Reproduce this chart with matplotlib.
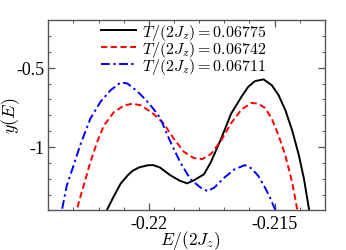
import matplotlib
matplotlib.use("Agg")
import matplotlib.pyplot as plt
from matplotlib.ticker import FixedLocator, MultipleLocator, FuncFormatter

plt.rcParams['mathtext.fontset'] = 'cm'
plt.rcParams['font.family'] = ['Liberation Serif', 'DejaVu Serif']

labels = [r"$T/(2J_z)=0.06775$", r"$T/(2J_z)=0.06742$", r"$T/(2J_z)=0.06711$"]

E_black = [-0.2218, -0.22166, -0.22139, -0.22112, -0.22085, -0.22065, -0.22038, -0.22004,
           -0.21983, -0.21956, -0.21915, -0.21875, -0.21848, -0.21821, -0.21781, -0.21754,
           -0.21713, -0.21673, -0.21632, -0.21605, -0.21578, -0.21544, -0.21511, -0.21484,
           -0.21457, -0.21430, -0.21403, -0.21383, -0.21363, -0.2135]
y_black = [-1.5, -1.394, -1.309, -1.230, -1.180, -1.150, -1.128, -1.115,
           -1.114, -1.129, -1.178, -1.214, -1.229, -1.210, -1.172, -1.097,
           -0.949, -0.790, -0.684, -0.621, -0.585, -0.574, -0.611, -0.674,
           -0.769, -0.896, -1.055, -1.203, -1.394, -1.5]

E_red = [-0.2230, -0.22287, -0.22260, -0.22233, -0.22206, -0.22179, -0.22139, -0.22098,
         -0.22065, -0.22031, -0.21983, -0.21942, -0.21902, -0.21861, -0.21821, -0.21787,
         -0.21753, -0.21713, -0.21673, -0.21632, -0.21592, -0.21565, -0.21538, -0.21511,
         -0.21484, -0.21457, -0.21430, -0.21410, -0.2140]
y_red = [-1.5, -1.394, -1.246, -1.097, -0.970, -0.865, -0.780, -0.738,
         -0.727, -0.738, -0.790, -0.850, -0.945, -1.030, -1.070, -1.076,
         -1.044, -0.960, -0.850, -0.764, -0.722, -0.727, -0.754, -0.822,
         -0.928, -1.055, -1.224, -1.394, -1.5]

E_blue = [-0.2236, -0.22346, -0.22327, -0.22300, -0.22274, -0.22233, -0.22193, -0.22152,
          -0.22112, -0.22085, -0.22044, -0.22011, -0.21982, -0.21956, -0.21915, -0.21875,
          -0.21835, -0.21794, -0.21767, -0.21740, -0.21700, -0.21659, -0.21632, -0.21619,
          -0.21592, -0.21565, -0.21538, -0.21518, -0.21498, -0.2149]
y_blue = [-1.5, -1.40, -1.246, -1.119, -0.992, -0.822, -0.716, -0.642,
          -0.593, -0.600, -0.652, -0.705, -0.760, -0.815, -0.965, -1.097,
          -1.203, -1.256, -1.278, -1.256, -1.193, -1.140, -1.123, -1.114,
          -1.135, -1.182, -1.256, -1.320, -1.394, -1.5]

fig = plt.figure(figsize=(3.46, 2.51), dpi=100)
ax = fig.add_axes([0.1396, 0.1574, 0.7994, 0.7589])

ax.plot(E_black, y_black, color='black', lw=1.4, ls='-', label=labels[0])
ax.plot(E_red, y_red, color='red', lw=1.4, ls=(0, (3.2, 1.8)), label=labels[1])
ax.plot(E_blue, y_blue, color='blue', lw=1.4, ls=(0, (4.5, 1.8, 1.2, 1.8)), label=labels[2])

ax.set_xlim(-0.224, -0.213)
ax.set_ylim(-1.4, -0.2)

ax.xaxis.set_major_locator(FixedLocator([-0.22, -0.215]))
ax.xaxis.set_minor_locator(MultipleLocator(0.001))
ax.yaxis.set_major_locator(FixedLocator([-0.5, -1.0]))
ax.yaxis.set_minor_locator(MultipleLocator(0.1))

def fmt(v, pos):
    return '%g' % v
ax.xaxis.set_major_formatter(FuncFormatter(fmt))
ax.yaxis.set_major_formatter(FuncFormatter(fmt))

spine_c = '#555555'
for s in ax.spines.values():
    s.set_color(spine_c)
    s.set_linewidth(1.0)
ax.tick_params(which='both', direction='in', top=True, right=True, color=spine_c, labelsize=13)
ax.tick_params(which='major', length=5, width=0.9, pad=3)
ax.tick_params(which='minor', length=2.5, width=0.7)

ax.set_xlabel(r"$E/(2J_z)$", fontsize=12.5)
ax.xaxis.set_label_coords(0.512, -0.09)
ax.set_ylabel(r"$y(E)$", fontsize=13)
ax.yaxis.set_label_coords(-0.095, 0.5)

ax.legend(loc='upper center', bbox_to_anchor=(0.489, 1.04), frameon=False, fontsize=11.5,
          handlelength=2.2, handletextpad=0.35, labelspacing=-0.2, borderaxespad=0.2)

fig.savefig('out.png', dpi=100)
